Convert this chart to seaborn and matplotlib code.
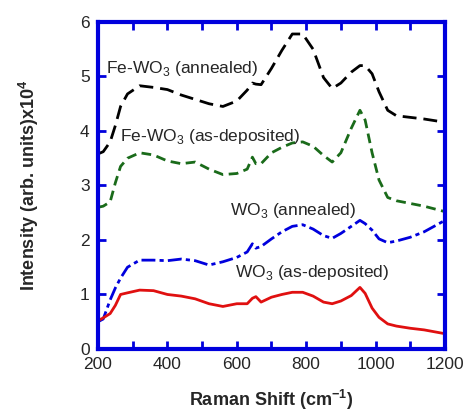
import numpy as np
import pandas as pd
import matplotlib
matplotlib.use("Agg")
import matplotlib.pyplot as plt
import seaborn as sns

# Raman shift grid (cm^-1)
shift = [200, 215, 235, 250, 265, 285, 320, 360, 400, 440, 480, 520, 560, 600,
         630, 645, 655, 670, 700, 730, 760, 790, 820, 850, 875, 900, 930, 955,
         970, 990, 1010, 1035, 1060, 1100, 1140, 1200]

# Intensities (arb. units x10^4)
fe_annealed = [3.58, 3.62, 3.80, 4.10, 4.45, 4.68, 4.83, 4.80, 4.76, 4.66, 4.58,
               4.50, 4.45, 4.55, 4.75, 4.88, 4.86, 4.85, 5.15, 5.48, 5.78, 5.78,
               5.50, 4.98, 4.78, 4.88, 5.08, 5.20, 5.20, 5.05, 4.72, 4.38, 4.28,
               4.25, 4.22, 4.16]
fe_asdep = [2.60, 2.62, 2.70, 3.05, 3.35, 3.50, 3.60, 3.56, 3.45, 3.40, 3.43,
            3.30, 3.20, 3.22, 3.30, 3.52, 3.40, 3.40, 3.60, 3.70, 3.78, 3.80,
            3.72, 3.55, 3.43, 3.60, 4.05, 4.38, 4.20, 3.60, 3.10, 2.78, 2.72,
            2.67, 2.62, 2.52]
wo_annealed = [0.50, 0.55, 0.90, 1.12, 1.30, 1.50, 1.63, 1.63, 1.62, 1.65, 1.62,
               1.54, 1.60, 1.68, 1.78, 1.93, 1.85, 1.88, 2.02, 2.15, 2.25, 2.28,
               2.20, 2.08, 2.03, 2.12, 2.25, 2.36, 2.30, 2.18, 2.02, 1.95, 1.98,
               2.05, 2.15, 2.36]
wo_asdep = [0.52, 0.57, 0.65, 0.80, 1.00, 1.03, 1.08, 1.07, 1.00, 0.97, 0.92,
            0.83, 0.78, 0.83, 0.83, 0.93, 0.96, 0.86, 0.95, 1.00, 1.04, 1.04,
            0.97, 0.86, 0.83, 0.88, 0.98, 1.13, 1.02, 0.75, 0.58, 0.46, 0.42,
            0.38, 0.35, 0.28]

sns.set_style("ticks")
plt.rcParams["font.family"] = ["Liberation Sans", "DejaVu Sans"]
plt.rcParams["mathtext.fontset"] = "custom"
plt.rcParams["mathtext.rm"] = "Liberation Sans"
plt.rcParams["mathtext.bf"] = "Liberation Sans:bold"

fig = plt.figure(figsize=(4.63, 4.12), dpi=100)
ax = fig.add_axes([0.2117, 0.153, 0.961 - 0.2117, 0.9466 - 0.153])

series = [
    (fe_annealed, "black", (0, (5, 2.5))),
    (fe_asdep, "#1a6b1a", (0, (3.5, 2))),
    (wo_annealed, "#0000dd", (0, (5, 1.5, 1.5, 1.5))),
    (wo_asdep, "#e01010", "-"),
]
for vals, col, ls in series:
    df = pd.DataFrame({"shift": shift, "intensity": vals})
    sns.lineplot(data=df, x="shift", y="intensity", ax=ax, color=col,
                 linewidth=2, linestyle=ls)

ax.set_xlim(200, 1200)
ax.set_ylim(0, 6)
ax.set_xticks(np.arange(200, 1201, 200))
ax.set_xticks(np.arange(300, 1200, 200), minor=True)
ax.set_yticks(np.arange(0, 7, 1))

blue = "#0000dd"
for s in ax.spines.values():
    s.set_color(blue)
    s.set_linewidth(3)
    s.set_visible(True)
ax.tick_params(which="both", direction="in", top=True, right=True,
               color=blue, width=2, length=6, labelsize=12.5, pad=6)

ax.set_xlabel("Raman Shift (cm$^{\\mathbf{-1}}$)", fontsize=13, fontweight="bold",
              labelpad=11)
ax.set_ylabel("Intensity (arb. units)x10$^{\\mathbf{4}}$", fontsize=13,
              fontweight="bold", labelpad=28)

tfs = 12.5
ax.text(222, 5.15, "Fe-WO$_3$ (annealed)", fontsize=tfs, va="center")
ax.text(264, 3.90, "Fe-WO$_3$ (as-deposited)", fontsize=tfs, va="center")
ax.text(580, 2.55, "WO$_3$ (annealed)", fontsize=tfs, va="center")
ax.text(594, 1.41, "WO$_3$ (as-deposited)", fontsize=tfs, va="center")

fig.savefig("out.png", dpi=100)
